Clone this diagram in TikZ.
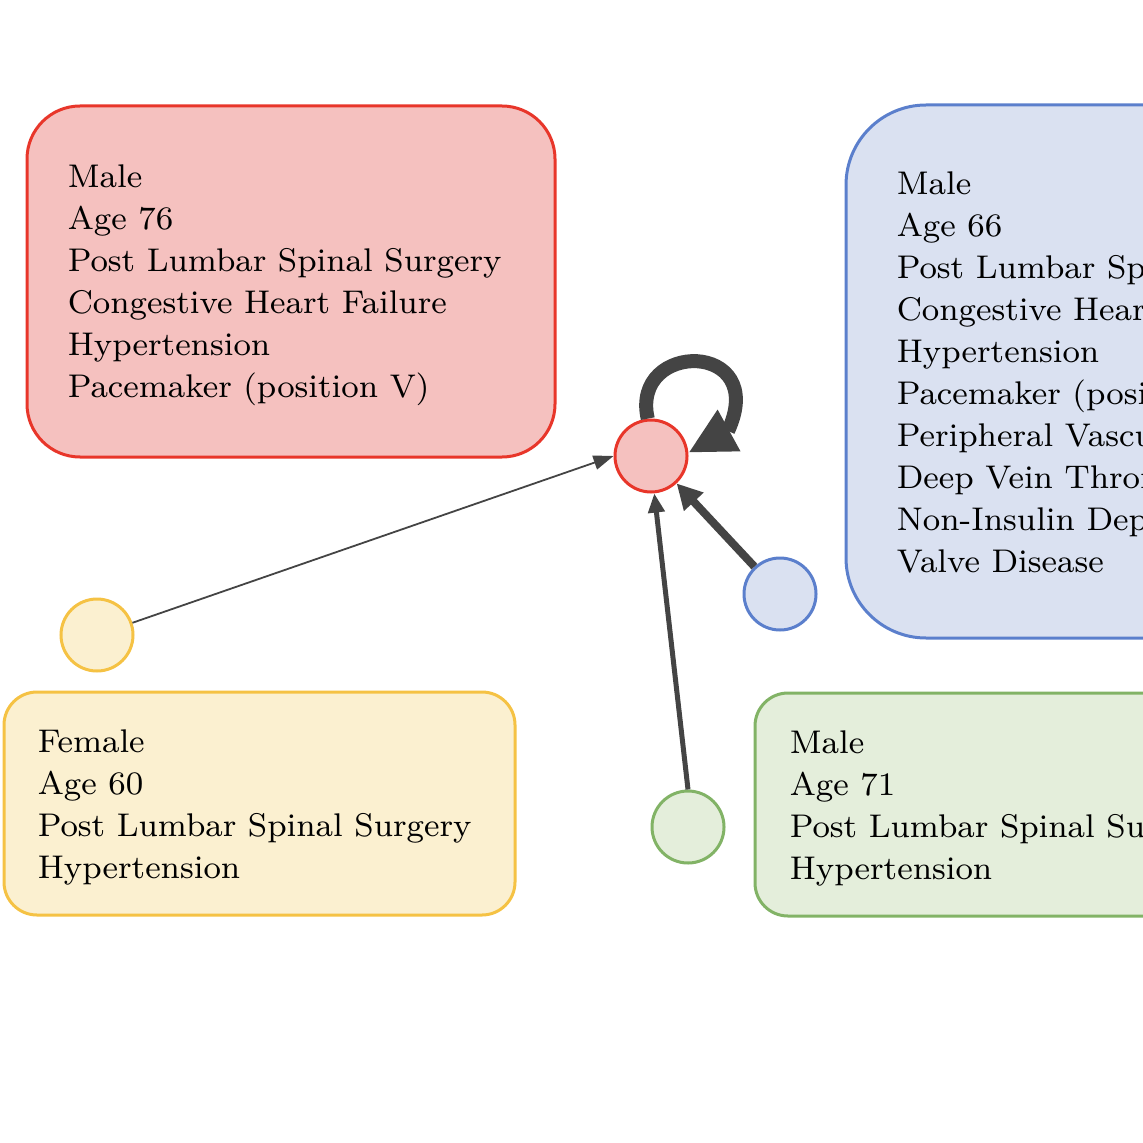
\documentclass[tikz,border=0pt]{standalone}
\usetikzlibrary{arrows.meta}
\definecolor{rfill}{HTML}{F5C1BF}
\definecolor{rdraw}{HTML}{E8362A}
\definecolor{bfill}{HTML}{DAE1F1}
\definecolor{bdraw}{HTML}{5B7FCC}
\definecolor{yfill}{HTML}{FBF0D0}
\definecolor{ydraw}{HTML}{F5C244}
\definecolor{gfill}{HTML}{E4EEDB}
\definecolor{gdraw}{HTML}{82B366}
\definecolor{edgec}{HTML}{444444}
\begin{document}
\begin{tikzpicture}[x=0.25pt,y=-0.25pt,
  box/.style={rectangle,draw,line width=0.75pt,inner sep=0pt},
  circ/.style={circle,draw,line width=0.75pt,inner sep=0pt,minimum size=18pt},
  txt/.style={anchor=north west,inner sep=0pt,align=left,font=\fontsize{8.2}{10.5}\selectfont},
  conn/.style={draw=edgec}]
\useasboundingbox (0,0) rectangle (1143,1143);
\clip (0,0) rectangle (1143,1143);
% boxes
\node[box,fill=rfill,draw=rdraw,rounded corners=13.25pt,minimum width=132pt,minimum height=87.75pt] (rbox) at (291,281.5) {};
\node[box,fill=bfill,draw=bdraw,rounded corners=20pt,minimum width=138.5pt,minimum height=133.25pt] (bbox) at (1123,371.5) {};
\node[box,fill=yfill,draw=ydraw,rounded corners=8.25pt,minimum width=127.75pt,minimum height=55.75pt] (ybox) at (259.5,803.5) {};
\node[box,fill=gfill,draw=gdraw,rounded corners=8.25pt,minimum width=161.25pt,minimum height=55.75pt] (gbox) at (1077.5,804.5) {};
% texts
\node[txt] (rtxt) at (67,164) {Male\\Age 76\\Post Lumbar Spinal Surgery\\Congestive Heart Failure\\Hypertension\\Pacemaker (position V)};
\node[txt] (btxt) at (896,171) {Male\\Age 66\\Post Lumbar Spinal Surgery\\Congestive Heart Failure\\Hypertension\\Pacemaker (position V)\\Peripheral Vascular Disease\\Deep Vein Thrombosis\\Non-Insulin Dependent Diabetes\\Valve Disease};
\node[txt] (ytxt) at (37,729) {Female\\Age 60\\Post Lumbar Spinal Surgery\\Hypertension};
\node[txt] (gtxt) at (789,730) {Male\\Age 71\\Post Lumbar Spinal Surgery\\Hypertension};
% circles
\node[circ,fill=rfill,draw=rdraw] (r) at (651,456) {};
\node[circ,fill=bfill,draw=bdraw] (b) at (780,594) {};
\node[circ,fill=yfill,draw=ydraw] (y) at (97,635) {};
\node[circ,fill=gfill,draw=gdraw] (g) at (688,827) {};
% connectors
\draw[conn,line width=0.45pt,-{Triangle[length=5pt,width=3.6pt]}] (y.19) -- (r.180);
\draw[conn,line width=1.25pt,-{Triangle[length=4.8pt,width=4pt]}] (g.90) -- (r.-85);
\draw[conn,line width=2pt,-{Triangle[length=6.3pt,width=6.3pt]}] (b) -- (r);
\coordinate (lb) at (728,431);
\draw[conn,line width=3.5pt] (r.95) .. controls (630,340) and (770,340) .. (lb);
\draw[conn,line width=3.5pt,-{Triangle[length=11.6pt,width=11pt]}] (lb) -- (r.5);
\end{tikzpicture}
\end{document}
